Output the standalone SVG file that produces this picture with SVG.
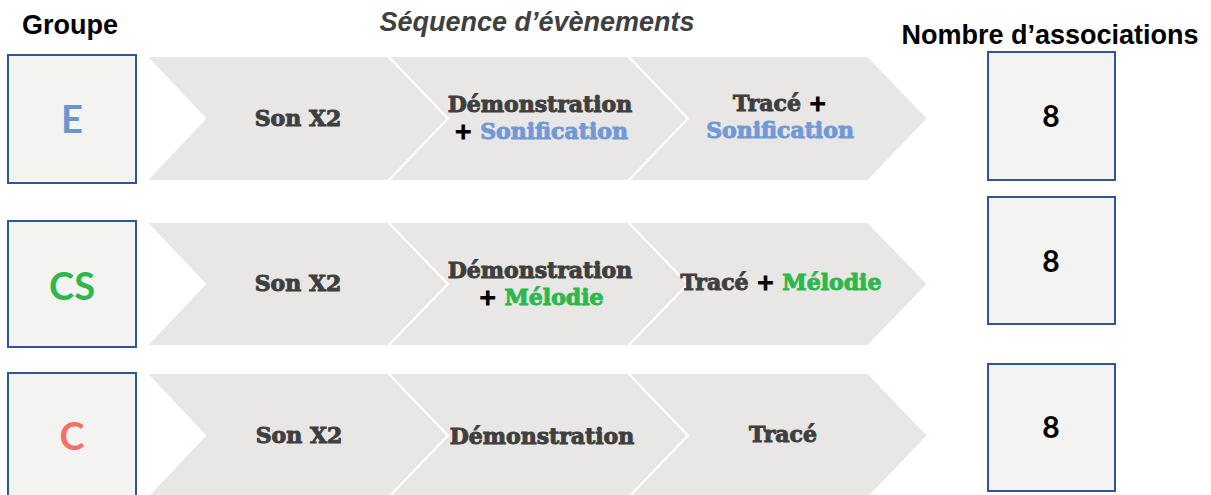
<svg xmlns="http://www.w3.org/2000/svg" width="1211" height="495" viewBox="0 0 1211 495">
<defs>
<style>
.hdr{font-family:"Liberation Sans",Arial,sans-serif;font-weight:bold;font-size:27px;fill:#000}
.seq{font-family:"Liberation Sans",Arial,sans-serif;font-weight:bold;font-style:italic;font-size:27px;fill:#404040}
.box{fill:#F3F3F2;stroke:#2F5597;stroke-width:2}
.chev{fill:#E8E7E5;stroke:#fff;stroke-width:2;stroke-linejoin:miter}
.ct{font-family:"DejaVu Serif",serif;font-weight:bold;font-size:22px;fill:#3F3F3F;stroke:#3F3F3F;stroke-width:1;text-anchor:middle}
.plus{fill:#000;stroke:#000}
.blue{fill:#7199D6;stroke:#7199D6}
.green{fill:#2DB84D;stroke:#2DB84D}
.grp{font-family:Lato,"Open Sans",sans-serif;font-weight:bold;font-size:38px;text-anchor:middle}
.num{font-family:Lato,"Open Sans",sans-serif;font-weight:bold;font-size:30px;fill:#000;text-anchor:middle}
</style>
</defs>
<rect width="1211" height="495" fill="#fff"/>
<g id="headers">
<text class="hdr" x="22" y="34">Groupe</text>
<text class="seq" x="537" y="31" text-anchor="middle">Séquence d’évènements</text>
<text class="hdr" x="1050" y="44" text-anchor="middle">Nombre d’associations</text>
</g>

<g id="connectors">
<polygon class="chev" points="146,56 388,56 448,118.5 388,181 146,181 205,118.5"/>
<polygon class="chev" points="388,56 628,56 688,118.5 628,181 388,181 448,118.5"/>
<polygon class="chev" points="628,56 868,56 928,118.5 868,181 628,181 688,118.5"/>
<polygon class="chev" points="146,222 388,222 448,284 388,346 146,346 205,284"/>
<polygon class="chev" points="388,222 628,222 688,284 628,346 388,346 448,284"/>
<polygon class="chev" points="628,222 868,222 928,284 868,346 628,346 688,284"/>
<polygon class="chev" points="146,373 388,373 448,435.5 388,498 146,498 205,435.5"/>
<polygon class="chev" points="388,373 628,373 688,435.5 628,498 388,498 448,435.5"/>
<polygon class="chev" points="628,373 868,373 928,435.5 868,498 628,498 688,435.5"/>
</g>

<g id="row1-steps">
<text class="ct" x="298" y="126">Son X2</text>
<text class="ct" x="540" y="112">Démonstration</text>
<text class="ct" x="541" y="139"><tspan class="plus">+ </tspan><tspan class="blue">Sonification</tspan></text>
<text class="ct" x="780" y="111">Tracé <tspan class="plus"> +</tspan></text>
<text class="ct blue" x="780" y="138">Sonification</text>
</g>
<g id="row2-steps">
<text class="ct" x="298" y="291">Son X2</text>
<text class="ct" x="540" y="278">Démonstration</text>
<text class="ct" x="541" y="305"><tspan class="plus">+ </tspan><tspan class="green">Mélodie</tspan></text>
<text class="ct" x="781" y="290">Tracé <tspan class="plus"> + </tspan><tspan class="green">Mélodie</tspan></text>
</g>
<g id="row3-steps">
<text class="ct" x="299" y="443">Son X2</text>
<text class="ct" x="542" y="444">Démonstration</text>
<text class="ct" x="783" y="442">Tracé</text>
</g>

<g id="group-E">
<rect class="box" x="8" y="55" width="128" height="128"/>
<text class="grp" x="72" y="133" fill="#6C94CF">E</text>
</g>
<g id="group-CS">
<rect class="box" x="8" y="221" width="128" height="126"/>
<text class="grp" x="72" y="300" fill="#2DB84D">CS</text>
</g>
<g id="group-C">
<rect class="box" x="8" y="373" width="128" height="128"/>
<text class="grp" x="72" y="450" fill="#F2726A">C</text>
</g>

<g id="count-E">
<rect class="box" x="988" y="52" width="127" height="128"/>
<text class="num" x="1051" y="127">8</text>
</g>
<g id="count-CS">
<rect class="box" x="988" y="197" width="127" height="127"/>
<text class="num" x="1051" y="272">8</text>
</g>
<g id="count-C">
<rect class="box" x="988" y="364" width="127" height="127"/>
<text class="num" x="1051" y="438">8</text>
</g>
</svg>
